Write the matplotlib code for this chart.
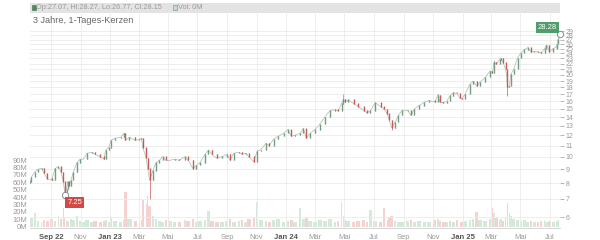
import matplotlib
matplotlib.use("Agg")
import matplotlib.pyplot as plt
import matplotlib.dates as mdates
import matplotlib.patches as mpatches
import numpy as np
import pandas as pd

# ---------------- data ----------------
dates = [
    "2022-07-20", "2022-07-22", "2022-07-29", "2022-08-05", "2022-08-12", "2022-08-17", "2022-08-24",
    "2022-09-02", "2022-09-09", "2022-09-16", "2022-09-21", "2022-09-26", "2022-09-29", "2022-10-03",
    "2022-10-05", "2022-10-07", "2022-10-12", "2022-10-17", "2022-10-24", "2022-10-31", "2022-11-07",
    "2022-11-14", "2022-11-24", "2022-12-01", "2022-12-12", "2022-12-19", "2022-12-23", "2022-12-29",
    "2023-01-03", "2023-01-11", "2023-01-23", "2023-01-30", "2023-02-02", "2023-02-10", "2023-02-22",
    "2023-03-03", "2023-03-07", "2023-03-10", "2023-03-17", "2023-03-20", "2023-03-24", "2023-03-31",
    "2023-04-06", "2023-04-13", "2023-04-20", "2023-04-27", "2023-05-05", "2023-05-15", "2023-05-25",
    "2023-06-05", "2023-06-12", "2023-06-22", "2023-06-29", "2023-07-06", "2023-07-17", "2023-07-24",
    "2023-07-31", "2023-08-10", "2023-08-21", "2023-08-31", "2023-09-07", "2023-09-14", "2023-09-25",
    "2023-10-02", "2023-10-09", "2023-10-16", "2023-10-26", "2023-11-02", "2023-11-09", "2023-11-20",
    "2023-11-27", "2023-12-06", "2023-12-15", "2023-12-27", "2024-01-05", "2024-01-12", "2024-01-19",
    "2024-01-30", "2024-02-06", "2024-02-12", "2024-02-20", "2024-03-01", "2024-03-11", "2024-03-21",
    "2024-04-01", "2024-04-11", "2024-04-18", "2024-04-25", "2024-04-29", "2024-05-02", "2024-05-09",
    "2024-05-20", "2024-05-30", "2024-06-10", "2024-06-17", "2024-06-24", "2024-07-04", "2024-07-15",
    "2024-07-22", "2024-07-29", "2024-08-02", "2024-08-07", "2024-08-14", "2024-08-21", "2024-08-28",
    "2024-09-09", "2024-09-16", "2024-09-23", "2024-10-02", "2024-10-14", "2024-10-24", "2024-11-04",
    "2024-11-11", "2024-11-15", "2024-11-22", "2024-11-29", "2024-12-06", "2024-12-13", "2024-12-20",
    "2024-12-27", "2024-12-30", "2025-01-06", "2025-01-16", "2025-01-23", "2025-01-30", "2025-02-06",
    "2025-02-17", "2025-02-27", "2025-03-04", "2025-03-07", "2025-03-12", "2025-03-19", "2025-03-21",
    "2025-03-26", "2025-03-31", "2025-04-03", "2025-04-04", "2025-04-08", "2025-04-11", "2025-04-17",
    "2025-04-25", "2025-05-02", "2025-05-09", "2025-05-16", "2025-05-23", "2025-05-30", "2025-06-06",
    "2025-06-13", "2025-06-20", "2025-06-24", "2025-06-30", "2025-07-08", "2025-07-15", "2025-07-16",
    "2025-07-17", "2025-07-18", "2025-07-21",
]
closes = [
    8.10, 8.43, 8.80, 9.00, 9.06, 8.70, 8.30,
    8.20, 9.06, 9.20, 8.80, 8.10, 7.40, 7.60,
    8.10, 7.80, 8.20, 8.80, 9.50, 9.80, 9.80,
    10.30, 10.40, 10.20, 10.00, 9.80, 10.60, 10.80,
    11.50, 11.70, 11.80, 12.20, 11.50, 11.80, 11.50,
    11.60, 11.70, 10.80, 9.90, 9.05, 8.20, 8.90,
    9.50, 9.70, 10.00, 9.70, 9.70, 9.80, 9.70,
    10.00, 9.70, 9.05, 9.30, 9.50, 10.20, 10.60,
    10.20, 9.90, 10.00, 10.20, 9.70, 10.30, 10.40,
    10.20, 10.30, 10.00, 9.60, 10.50, 10.60, 11.20,
    11.00, 11.60, 11.90, 12.20, 12.60, 11.90, 12.00,
    12.20, 12.70, 11.70, 12.20, 12.60, 13.20, 14.00,
    14.80, 14.90, 14.80, 15.70, 16.30, 15.90, 16.20,
    15.70, 15.30, 14.80, 14.50, 14.80, 15.80, 15.30,
    15.00, 14.40, 13.60, 12.80, 13.40, 14.20, 14.80,
    14.80, 14.20, 15.00, 15.40, 15.90, 16.10, 15.90,
    16.90, 15.90, 15.80, 16.00, 16.80, 17.20, 17.10,
    16.40, 16.30, 17.00, 18.50, 19.00, 18.20, 18.80,
    19.60, 20.70, 20.40, 22.30, 21.90, 22.80, 23.10,
    22.20, 21.00, 19.60, 18.00, 18.20, 20.10, 21.00,
    23.10, 24.10, 24.80, 25.20, 24.30, 24.40, 24.30,
    24.10, 25.00, 25.80, 24.40, 25.00, 25.40, 26.00,
    26.60, 27.07, 28.15,
]
volumes_m = [
    9, 12, 18, 8, 7, 9, 8,
    10, 8, 14, 11, 25, 13, 9,
    8, 7, 10, 9, 14, 8, 7,
    9, 6, 8, 7, 8, 9, 6,
    12, 8, 7, 9, 47, 10, 8,
    7, 9, 36, 30, 42, 28, 14,
    10, 8, 7, 9, 8, 6, 7,
    9, 8, 10, 7, 8, 9, 21,
    8, 7, 6, 8, 10, 7, 8,
    9, 7, 11, 12, 34, 9, 8,
    7, 9, 10, 6, 8, 9, 7,
    25, 10, 12, 8, 7, 9, 8,
    10, 7, 8, 34, 14, 9, 8,
    7, 8, 9, 7, 23, 8, 7,
    25, 9, 12, 14, 8, 7, 6,
    8, 9, 7, 8, 6, 7, 9,
    11, 8, 7, 6, 8, 7, 9,
    6, 7, 8, 9, 10, 20, 9,
    8, 11, 25, 18, 12, 9, 10,
    8, 12, 20, 32, 18, 14, 10,
    9, 8, 9, 7, 8, 6, 7,
    8, 9, 7, 8, 7, 8, 9,
    8, 9, 0,
]
first_open = 8.0
wick_lows = {"2022-09-29": 7.25, "2023-03-24": 7.0, "2024-08-07": 12.5, "2025-04-04": 16.7}
wick_highs = {"2024-04-29": 17.0, "2024-11-11": 17.0, "2025-03-07": 22.8, "2025-07-21": 28.27}

price_ticks = list(range(6, 30))
vol_ticks_m = [0, 10, 20, 30, 40, 50, 60, 70, 80, 90]
month_tick_dates = ["2022-09-01", "2022-11-01", "2023-01-01", "2023-03-01", "2023-05-01", "2023-07-01",
                    "2023-09-01", "2023-11-01", "2024-01-01", "2024-03-01", "2024-05-01", "2024-07-01",
                    "2024-09-01", "2024-11-01", "2025-01-01", "2025-03-01", "2025-05-01", "2025-07-01"]
month_tick_labels = ["Sep 22", "Nov", "Jan 23", "Mär", "Mai", "Jul", "Sep", "Nov", "Jan 24",
                     "Mär", "Mai", "Jul", "Sep", "Nov", "Jan 25", "Mär", "Mai", "Jul"]
header_text = "Op:27.07, Hi:28.27, Lo:26.77, Cl:28.15"
vol_text = "Vol: 0M"
title_text = "3 Jahre, 1-Tages-Kerzen"
low_label = "7.25"
high_label = "28.28"

# ---------------- drawing ----------------
plt.rcParams["font.family"] = ["Liberation Sans", "DejaVu Sans"]
UP = "#739e80"
DOWN = "#c95a5a"
UP_V = "#d5e9db"
DOWN_V = "#f5d2d2"
GRID = "#ebebeb"
TXT = "#9a9a9a"

W, H = 600, 240
fig = plt.figure(figsize=(6, 2.4), dpi=100)
L, R, B, T = 30, 560, 228, 12
rect = [L / W, 1 - B / H, (R - L) / W, (B - T) / H]
ax = fig.add_axes(rect)
axv = ax.twinx()

d = pd.to_datetime(dates)
dn = mdates.date2num(d)
c = np.array(closes)
o = np.concatenate([[first_open], c[:-1]])
hi = np.maximum(o, c)
lo = np.minimum(o, c)
for k, v in wick_lows.items():
    lo[dates.index(k)] = v
for k, v in wick_highs.items():
    hi[dates.index(k)] = v
up = c >= o
cols = np.where(up, UP, DOWN)

# price
ax.set_yscale("log")
ax.set_ylim(5.47, 34.1)
ax.set_xlim(mdates.date2num(pd.Timestamp("2022-07-19")), mdates.date2num(pd.Timestamp("2025-07-22")))
ax.plot(dn, c, color="#a9bbaf", lw=0.5, zorder=2)
ax.vlines(dn, lo, hi, colors=cols, lw=0.5, zorder=3)
ax.vlines(dn, np.minimum(o, c), np.maximum(o, c) * 1.003, colors=cols, lw=1.0, zorder=3)

ax.yaxis.tick_right()
ax.set_yticks(price_ticks)
ax.set_yticklabels([str(t) for t in price_ticks])
ax.yaxis.set_minor_locator(matplotlib.ticker.NullLocator())
ax.tick_params(axis="y", which="both", labelsize=5, colors=TXT, length=3, width=0.5, pad=1)
ax.grid(True, axis="y", color=GRID, lw=0.6)

mt = mdates.date2num(pd.to_datetime(month_tick_dates))
ax.set_xticks(mt)
ax.set_xticklabels(month_tick_labels)
ax.tick_params(axis="x", length=0, pad=4.5, labelsize=5.5, colors=TXT)
for lab in ax.get_xticklabels():
    if " " in lab.get_text():
        lab.set_fontweight("bold")
        lab.set_color("#555555")
ax.grid(True, axis="x", color=GRID, lw=0.6)
for s in ["top", "left", "right"]:
    ax.spines[s].set_visible(False)
ax.spines["bottom"].set_color("#d0d0d0")
ax.spines["bottom"].set_linewidth(0.6)

# volume
vw = np.diff(dn, append=dn[-1] + 3) * 0.75
vcols = np.where(up, UP_V, DOWN_V)
axv.bar(dn, np.array(volumes_m) * 1e6, width=vw, color=vcols, align="center", zorder=1)
axv.set_ylim(-1.75e6, 290e6)
axv.yaxis.tick_left()
axv.set_yticks([v * 1e6 for v in vol_ticks_m])
axv.set_yticklabels([f"{v}M" for v in vol_ticks_m])
axv.tick_params(axis="y", labelsize=5.5, colors=TXT, length=0, pad=2)
for s in axv.spines.values():
    s.set_visible(False)
ax.set_zorder(axv.get_zorder() + 1)
ax.patch.set_visible(False)

# markers and labels
ilow = dates.index("2022-09-29")
ax.plot([dn[ilow]], [7.25], marker="o", ms=4.5, mfc="white", mec="#8a8a8a", mew=0.7, zorder=6)
ax.annotate(low_label, (dn[ilow], 7.25), xytext=(7.2, -5.8), textcoords="offset points",
            ha="center", va="center", fontsize=5.5, color="white", zorder=7,
            bbox=dict(boxstyle="square,pad=0.25", fc="#d24a45", ec="none"))
ihi = len(dates) - 1
ax.plot([dn[ihi]], [28.27], marker="o", ms=4.5, mfc="white", mec="#8a8a8a", mew=0.7, zorder=6,
        clip_on=False)
ax.annotate(high_label, (dn[ihi], 28.27), xytext=(-8.6, 4.9), textcoords="offset points",
            ha="center", va="center", fontsize=5.5, color="white", zorder=7,
            bbox=dict(boxstyle="square,pad=0.25", fc="#4f9e6c", ec="none"))

# header bar
fig.patches.append(mpatches.Rectangle((L / W, 1 - 12.5 / H), (R - L) / W, 9.5 / H,
                                      transform=fig.transFigure, fc="#e3e3e3", ec="none", zorder=0))
fig.patches.append(mpatches.Rectangle((31.5 / W, 1 - 10 / H), 4 / W, 4.5 / H,
                                      transform=fig.transFigure, fc="#4d8a5e", ec="#3d6e4a", lw=0.4))
fig.text(36 / W, 1 - 7.8 / H, header_text, fontsize=5.3, color="#9a9a9a", va="center", ha="left")
fig.patches.append(mpatches.Rectangle((173 / W, 1 - 10 / H), 4 / W, 4.5 / H,
                                      transform=fig.transFigure, fc="#c9dccf", ec="#6f8f78", lw=0.4))
fig.text(178.5 / W, 1 - 7.8 / H, vol_text, fontsize=5.3, color="#9a9a9a", va="center", ha="left")
fig.text(33 / W, 1 - 20.5 / H, title_text, fontsize=6.6, color="#666666", va="center", ha="left")

fig.savefig("out.png", dpi=100, facecolor="white")
